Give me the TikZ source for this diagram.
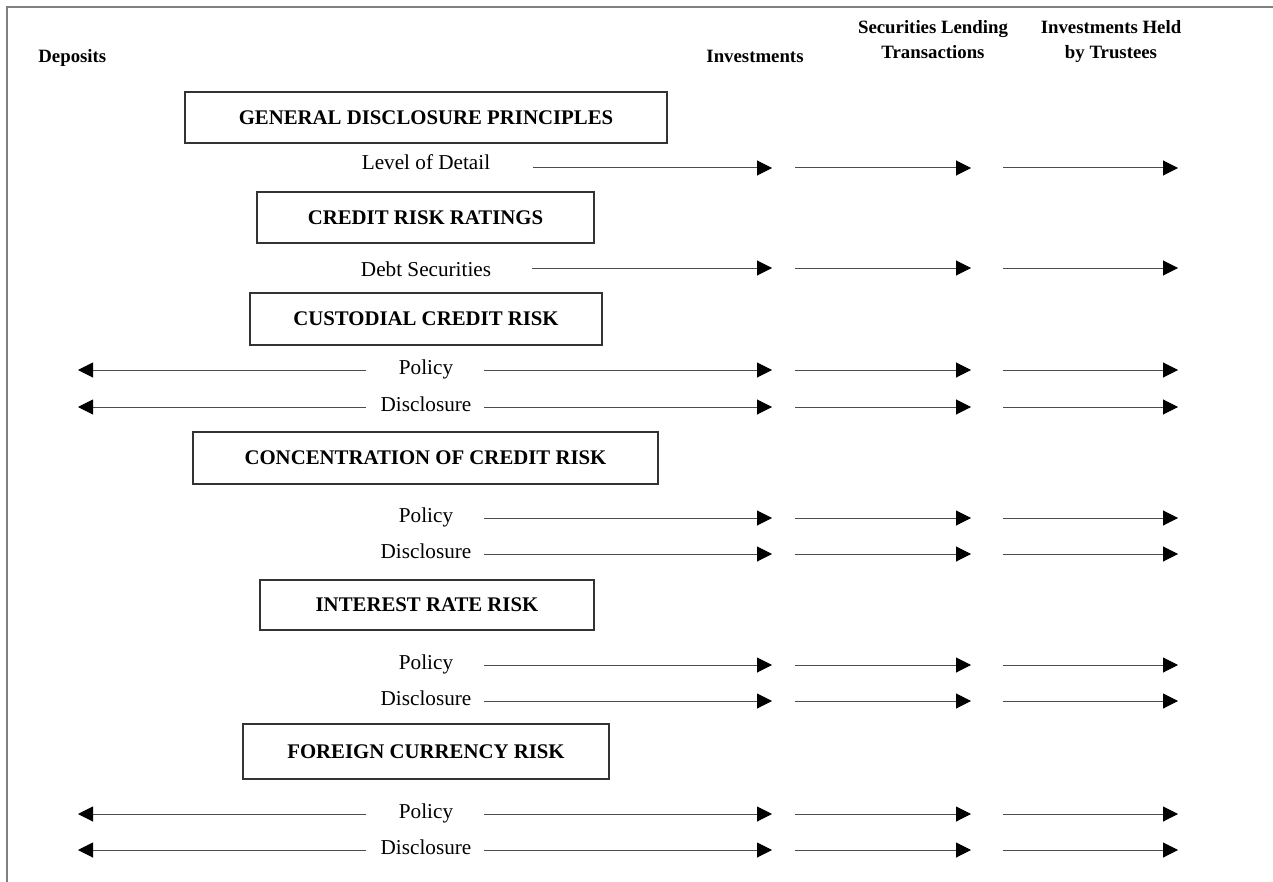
\documentclass[tikz,border=0pt]{standalone}
\usepackage{fontspec}
\setmainfont{Liberation Serif}
\usetikzlibrary{arrows.meta,positioning}

\begin{document}
\begin{tikzpicture}[x=0.5pt,y=-0.5pt,>={Triangle[length=7.5pt,width=7.5pt,color=black]},
  font=\fontsize{10.6}{12.5}\selectfont,
  colhead/.style={font=\fontsize{9.4}{12.5}\selectfont\bfseries,align=center,inner sep=0pt},
  riskbox/.style={draw=black!80,line width=0.6pt,minimum height=25.5pt,inner sep=0pt,
    font=\fontsize{10.4}{12}\selectfont\bfseries},
  rowlabel/.style={inner sep=0pt,anchor=base},
  flow/.style={->,draw=black!70,line width=0.5pt}]
\useasboundingbox (0,0) rectangle (1273,882);
\draw[gray,line width=1pt] (7,882) -- (7,7) -- (1273,7);

% column headings
\node[colhead,anchor=base west] (dep) at (38,63) {Deposits};
\node[colhead,anchor=base] (inv) at (755,63) {Investments};
\node[colhead,anchor=base] (slt) at (933,59) {Securities Lending\\Transactions};
\node[colhead,anchor=base] (iht) at (1111,59) {Investments Held\\by Trustees};

% where the arrows start and end
\coordinate (dep-s) at (366,0);  \coordinate (dep-t) at (78,0);
\coordinate (inv-t) at (772,0);
\coordinate (slt-s) at (795,0);  \coordinate (slt-t) at (971,0);
\coordinate (iht-s) at (1003,0); \coordinate (iht-t) at (1178,0);

% topic boxes
\node[riskbox,minimum width=241pt] (gdp) at (426,117.5) {GENERAL DISCLOSURE PRINCIPLES};
\node[riskbox,minimum width=168.5pt] (crr) at (425.5,217.5) {CREDIT RISK RATINGS};
\node[riskbox,minimum width=176pt,minimum height=26pt] (ccr) at (426,319) {CUSTODIAL CREDIT RISK};
\node[riskbox,minimum width=232.5pt,minimum height=26pt] (cocr) at (425.5,458) {CONCENTRATION OF CREDIT RISK};
\node[riskbox,minimum width=167pt,minimum height=25pt] (irr) at (427,605) {INTEREST RATE RISK};
\node[riskbox,minimum width=183pt,minimum height=27.5pt] (fcr) at (426,751.5) {FOREIGN CURRENCY RISK};

% requirement rows
\foreach \n/\txt/\yb/\yl/\sx in {lod/Level of Detail/170/168/533,debt/Debt Securities/276/268/532,
    cpol/Policy/374/370/484,cdis/Disclosure/411/407/484,
    kpol/Policy/522/518/484,kdis/Disclosure/558/554/484,
    ipol/Policy/669/665/484,idis/Disclosure/705/701/484,
    fpol/Policy/818/814/484,fdis/Disclosure/854/850/484}{
  \node[rowlabel] (\n) at (426,\yb) {\txt};
  \coordinate (\n-s) at (\sx,\yl);
  \draw[flow] (\n-s) -- (\n-s -| inv-t);
  \draw[flow] (\n-s -| slt-s) -- (\n-s -| slt-t);
  \draw[flow] (\n-s -| iht-s) -- (\n-s -| iht-t);
}
\foreach \n in {cpol,cdis,fpol,fdis}
  \draw[flow] (\n-s -| dep-s) -- (\n-s -| dep-t);
\end{tikzpicture}
\end{document}
